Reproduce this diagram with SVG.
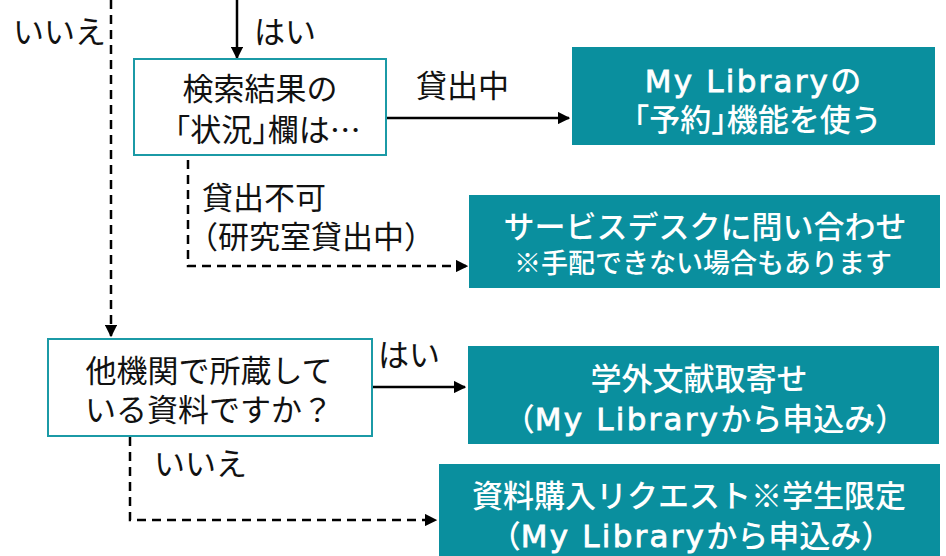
<svg xmlns="http://www.w3.org/2000/svg" width="946" height="556" viewBox="0 0 946 556">
<defs>
<style>
.q{fill:#fff;stroke:#1b9aa6;stroke-width:2}
.t{fill:#0a8f9e}
.tx{font-family:"Noto Sans CJK JP","Noto Sans",sans-serif;font-size:31px;fill:#111}
.w{font-family:"Noto Sans CJK JP","Noto Sans",sans-serif;font-size:31px;fill:#fff;font-weight:500}
.lat{font-family:"DejaVu Sans",sans-serif;letter-spacing:2.2px;stroke:#fff;stroke-width:0.8px}
.h{font-feature-settings:"halt"}
.s{stroke:#000;stroke-width:2.5;fill:none}
.d{stroke:#000;stroke-width:2.5;fill:none;stroke-dasharray:9 6}
</style>
<marker id="a" viewBox="0 0 10 10" refX="9" refY="5" markerWidth="5" markerHeight="5" orient="auto" markerUnits="strokeWidth">
<path d="M0,0 L10,5 L0,10 Z" fill="#000"/>
</marker>
</defs>
<rect width="946" height="556" fill="#fff"/>
<g id="connectors">
<line class="s" x1="237" y1="0" x2="237" y2="58" marker-end="url(#a)"/>
<line class="s" x1="386" y1="118" x2="569" y2="118" marker-end="url(#a)"/>
<line class="d" x1="111" y1="0" x2="111" y2="336" marker-end="url(#a)"/>
<polyline class="d" points="188,160 188,266 467,266" marker-end="url(#a)"/>
<line class="s" x1="372" y1="387" x2="465" y2="387" marker-end="url(#a)"/>
<polyline class="d" points="130,437 130,520 436,520" marker-end="url(#a)"/>
<text class="tx" x="13" y="43">いいえ</text>
<text class="tx" x="254" y="43">はい</text>
<text class="tx" x="416" y="97">貸出中</text>
<text class="tx" x="202" y="209">貸出不可</text>
<text class="tx" x="187" y="248">（研究室貸出中）</text>
<text class="tx" x="378" y="366">はい</text>
<text class="tx" x="154" y="475">いいえ</text>
</g>
<g id="n1">
<rect class="q" x="134" y="59" width="252" height="96"/>
<text class="tx" x="260" y="100" text-anchor="middle">検索結果の</text>
<text class="tx" x="260" y="141" text-anchor="middle">「状況<tspan class="h">」</tspan>欄は…</text>
</g>
<g id="n2">
<rect class="q" x="48" y="339" width="324" height="97"/>
<text class="tx" x="209" y="382" text-anchor="middle">他機関で所蔵して</text>
<text class="tx" x="209" y="421" text-anchor="middle">いる資料ですか？</text>
</g>
<g id="nA">
<rect class="t" x="572" y="47" width="363" height="98"/>
<text class="w" x="753" y="92" text-anchor="middle"><tspan class="lat">My Library</tspan>の</text>
<text class="w" x="750" y="131" text-anchor="middle">「予約<tspan class="h">」</tspan>機能を使う</text>
</g>
<g id="nB">
<rect class="t" x="469" y="195" width="471" height="93"/>
<text class="w" x="705" y="238" text-anchor="middle">サービスデスクに問い合わせ</text>
<text class="w" x="703" y="273" text-anchor="middle" style="font-size:27px">※手配できない場合もあります</text>
</g>
<g id="nC">
<rect class="t" x="468" y="346" width="471" height="98"/>
<text class="w" x="699" y="390" text-anchor="middle">学外文献取寄せ</text>
<text class="w" x="705" y="430" text-anchor="middle">（<tspan class="lat">My Library</tspan>から申込み）</text>
</g>
<g id="nD">
<rect class="t" x="439" y="464" width="501" height="92"/>
<text class="w" x="689" y="507" text-anchor="middle">資料購入リクエスト※学生限定</text>
<text class="w" x="691" y="547" text-anchor="middle">（<tspan class="lat">My Library</tspan>から申込み）</text>
</g>
</svg>
